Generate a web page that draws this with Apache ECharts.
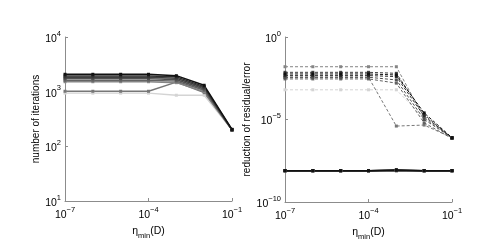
<!DOCTYPE html>
<html><head><meta charset="utf-8">
<script src="https://cdn.jsdelivr.net/npm/echarts@6/dist/echarts.min.js"></script>
<style>html,body{margin:0;padding:0;background:#fff}#c{width:498px;height:250px}</style>
</head><body><div id="c"></div>
<script>
// eta_min(D) values (x categories on log scale)
const etaMin = [1e-7, 1e-6, 1e-5, 1e-4, 1e-3, 1e-2, 1e-1];
const colors = ['#111111', '#2e2e2e', '#3f3f3f', '#505050', '#636363', '#858585', '#777777', '#d4d4d4'];

// left panel: number of iterations
const iters1 = [2080, 2080, 2080, 2080, 1960, 1310, 205];
const iters2 = [1940, 1940, 1940, 1940, 1870, 1240, 200];
const iters3 = [1830, 1830, 1830, 1830, 1760, 1180, 200];
const iters4 = [1730, 1730, 1730, 1730, 1650, 1120, 200];
const iters5 = [1615, 1615, 1615, 1615, 1560, 1060, 200];
const iters6 = [1520, 1520, 1520, 1520, 1460, 1000, 200];
const iters7 = [1017, 1017, 1017, 1017, 1500, 960, 200];
const iters8 = [940, 940, 940, 940, 860, 860, 200];

// right panel: reduction of error (dashed)
const err1 = [5.75e-3, 5.75e-3, 5.75e-3, 5.75e-3, 5.0e-3, 2.5e-5, 7.9e-7];
const err2 = [4.57e-3, 4.57e-3, 4.57e-3, 4.57e-3, 4.0e-3, 1.6e-5, 7.9e-7];
const err3 = [7.24e-3, 7.24e-3, 7.24e-3, 7.24e-3, 6.3e-3, 2.0e-5, 7.1e-7];
const err4 = [3.63e-3, 3.63e-3, 3.63e-3, 3.63e-3, 2.5e-3, 1.0e-5, 7.9e-7];
const err5 = [2.88e-3, 2.88e-3, 2.88e-3, 2.88e-3, 1.6e-3, 6.3e-6, 7.1e-7];
const err6 = [1.58e-2, 1.58e-2, 1.58e-2, 1.58e-2, 1.58e-2, 1.26e-5, 7.9e-7];
const err7 = [3.63e-3, 3.63e-3, 3.63e-3, 3.63e-3, 4.0e-6, 4.6e-6, 7.9e-7];
const err8 = [6.3e-4, 6.3e-4, 6.3e-4, 6.3e-4, 6.3e-4, 1.26e-5, 7.9e-7];

// right panel: reduction of residual (solid)
const res1 = [7.9e-9, 7.9e-9, 7.9e-9, 7.9e-9, 8.6e-9, 7.9e-9, 7.9e-9];
const res2 = [7.9e-9, 7.9e-9, 7.9e-9, 7.9e-9, 9.2e-9, 7.9e-9, 7.9e-9];
const res3 = [7.9e-9, 7.9e-9, 7.9e-9, 7.9e-9, 8.3e-9, 7.9e-9, 7.9e-9];
const res4 = [7.9e-9, 7.9e-9, 7.9e-9, 7.9e-9, 8.0e-9, 7.9e-9, 7.9e-9];
const res5 = [7.9e-9, 7.9e-9, 7.9e-9, 7.9e-9, 8.0e-9, 7.9e-9, 7.9e-9];
const res6 = [7.9e-9, 7.9e-9, 7.9e-9, 7.9e-9, 8.0e-9, 7.9e-9, 7.9e-9];
const res7 = [7.9e-9, 7.9e-9, 7.9e-9, 7.9e-9, 7.9e-9, 7.9e-9, 7.9e-9];
const res8 = [7.9e-9, 7.9e-9, 7.9e-9, 7.9e-9, 7.9e-9, 7.9e-9, 7.9e-9];

const itersAll = [iters1, iters2, iters3, iters4, iters5, iters6, iters7, iters8];
const errAll = [err1, err2, err3, err4, err5, err6, err7, err8];
const resAll = [res1, res2, res3, res4, res5, res6, res7, res8];

const FONT = 'Liberation Sans, Arial, Helvetica, sans-serif';
const pairs = arr => arr.map((v, i) => [etaMin[i], v]);

const expLabel = {
  color: '#000', fontFamily: FONT,
  formatter: v => '{b|10}{e|' + String(Math.round(Math.log10(v))).replace('-', '\u2212') + '}',
  rich: {
    b: {fontSize: 10.5, fontFamily: FONT, color: '#000', verticalAlign: 'bottom', lineHeight: 15},
    e: {fontSize: 7.5, fontFamily: FONT, color: '#000', verticalAlign: 'top', lineHeight: 15}
  }
};
const axisCommon = {
  axisLine: {show: true, lineStyle: {color: '#8c8c8c', width: 1}},
  axisTick: {show: true, inside: true, length: 3, lineStyle: {color: '#8c8c8c'}},
  splitLine: {show: false}
};
const etaName = {
  name: '{a|η}{s|min}{a|(D)}',
  nameLocation: 'middle',
  nameGap: 16,
  nameTextStyle: {
    rich: {
      a: {fontSize: 10.5, fontFamily: FONT, color: '#000', verticalAlign: 'top', lineHeight: 14},
      s: {fontSize: 7.5, fontFamily: FONT, color: '#000', verticalAlign: 'bottom', lineHeight: 14}
    }
  }
};

// draw lighter series first so that the dark ones end up on top
const order = [7, 6, 5, 4, 3, 2, 1, 0];
const series = [];
order.forEach(i => series.push({
  type: 'line', xAxisIndex: 0, yAxisIndex: 0, data: pairs(itersAll[i]),
  symbol: 'rect', symbolSize: 3, showSymbol: true,
  lineStyle: {color: colors[i], width: 1.4}, itemStyle: {color: colors[i]},
  silent: true, animation: false
}));
order.forEach(i => series.push({
  type: 'line', xAxisIndex: 1, yAxisIndex: 1, data: pairs(errAll[i]),
  symbol: 'rect', symbolSize: 3,
  lineStyle: {color: colors[i], width: 1, type: [3, 2]}, itemStyle: {color: colors[i]},
  silent: true, animation: false
}));
order.forEach(i => series.push({
  type: 'line', xAxisIndex: 1, yAxisIndex: 1, data: pairs(resAll[i]),
  symbol: 'rect', symbolSize: 3,
  lineStyle: {color: colors[i], width: 1.4}, itemStyle: {color: colors[i]},
  silent: true, animation: false
}));

const chart = echarts.init(document.getElementById('c'), null, {renderer: 'canvas'});
chart.setOption({
  animation: false,
  backgroundColor: '#fff',
  grid: [
    {left: 65, top: 37, width: 167, height: 164},
    {left: 285, top: 37, width: 167, height: 165}
  ],
  xAxis: [
    Object.assign({type: 'log', gridIndex: 0, min: 1e-7, max: 1e-1, interval: 3, logBase: 10,
      axisLabel: Object.assign({margin: 5}, expLabel)}, axisCommon, etaName),
    Object.assign({type: 'log', gridIndex: 1, min: 1e-7, max: 1e-1, interval: 3, logBase: 10,
      axisLabel: Object.assign({margin: 5}, expLabel)}, axisCommon, etaName)
  ],
  yAxis: [
    Object.assign({type: 'log', gridIndex: 0, min: 10, max: 1e4, interval: 1, logBase: 10,
      name: 'number of iterations', nameLocation: 'middle', nameGap: 22,
      nameTextStyle: {fontSize: 10, fontFamily: FONT, color: '#000'},
      axisLabel: Object.assign({margin: 4}, expLabel)}, axisCommon),
    Object.assign({type: 'log', gridIndex: 1, min: 1e-10, max: 1, interval: 5, logBase: 10,
      name: 'reduction of residual/error', nameLocation: 'middle', nameGap: 33,
      nameTextStyle: {fontSize: 10, fontFamily: FONT, color: '#000'},
      axisLabel: Object.assign({margin: 4}, expLabel)}, axisCommon)
  ],
  series: series
});
</script></body></html>
